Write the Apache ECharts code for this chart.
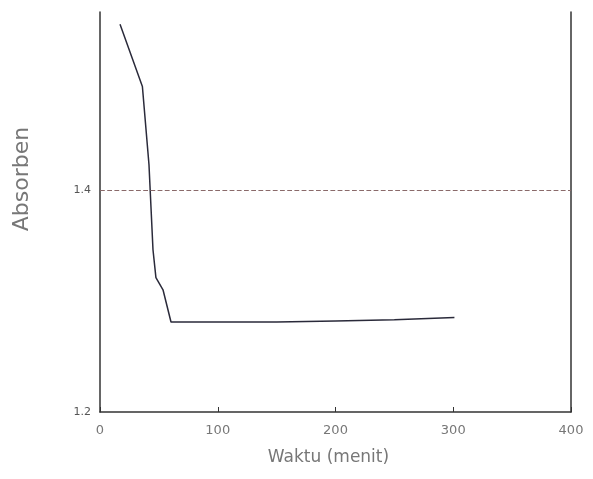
<!DOCTYPE html>
<html>
<head>
<meta charset="utf-8">
<script src="https://cdn.jsdelivr.net/npm/echarts@6/dist/echarts.min.js"></script>
<style>html,body{margin:0;padding:0;background:#fff}#c{width:593px;height:479px}</style>
</head>
<body>
<div id="c"></div>
<script>
var waktu = [17, 36, 41.6, 45, 47.5, 53.5, 60.3, 100, 150, 200, 250, 301];
var absorben = [1.549, 1.493, 1.4225, 1.346, 1.321, 1.31, 1.281, 1.281, 1.281, 1.282, 1.283, 1.285];
var xTicks = [0, 100, 200, 300, 400];
var yTicks = [1.2, 1.4];
var refLine = 1.4;

var chart = echarts.init(document.getElementById('c'));
var font = 'DejaVu Sans';
chart.setOption({
  animation: false,
  grid: {left: 100, right: 22, top: 12, bottom: 67},
  xAxis: {
    type: 'value', min: 0, max: 400, interval: 100,
    name: 'Waktu (menit)', nameLocation: 'middle', nameGap: 37,
    nameTextStyle: {color: '#777', fontSize: 17, fontFamily: font, padding: [0, 14, 0, 0]},
    axisLine: {lineStyle: {color: '#333', width: 1.5}},
    axisTick: {inside: true, length: 5, lineStyle: {color: '#333'}},
    axisLabel: {color: '#777', fontSize: 13, fontFamily: font, margin: 12,
      formatter: function(v){ return xTicks.indexOf(v) >= 0 ? String(v) : ''; }},
    splitLine: {show: false}
  },
  yAxis: [{
    type: 'value', min: 1.2, max: 1.56, interval: 0.2,
    name: 'Absorben', nameLocation: 'middle', nameGap: 67, nameRotate: 90,
    nameTextStyle: {color: '#777', fontSize: 22, fontFamily: font, padding: [0, 0, 0, 66]},
    axisLine: {show: true, lineStyle: {color: '#333', width: 1.5}},
    axisTick: {show: false},
    axisLabel: {color: '#555', fontSize: 11, fontFamily: font, margin: 9, showMaxLabel: false,
      formatter: function(v){ var r = Math.round(v*10)/10; return yTicks.indexOf(r) >= 0 ? r.toFixed(1) : ''; }},
    splitLine: {show: false}
  }, {
    type: 'value', min: 1.2, max: 1.56, position: 'right',
    axisLine: {show: true, lineStyle: {color: '#333', width: 1.5}},
    axisTick: {show: false}, axisLabel: {show: false}, splitLine: {show: false}
  }],
  series: [{
    type: 'line',
    data: waktu.map(function(t, i){ return [t, absorben[i]]; }),
    showSymbol: false,
    lineStyle: {color: '#2a2a3a', width: 1.5},
    markLine: {
      silent: true, symbol: 'none', label: {show: false},
      lineStyle: {type: 'dashed', color: '#8a6a6a', width: 1.2},
      data: [{yAxis: refLine}]
    }
  }]
});
</script>
</body>
</html>
